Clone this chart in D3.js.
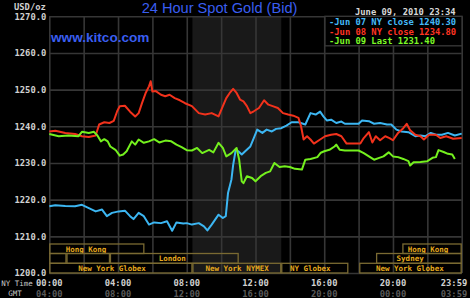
<!DOCTYPE html>
<html><head><meta charset="utf-8">
<script src="https://cdn.jsdelivr.net/npm/d3@7"></script>
<style>html,body{margin:0;padding:0;background:#000;}svg{display:block}</style>
</head><body>
<svg id="c" width="470" height="298"></svg>
<script>
// ---------- data ----------
const yTicks = [1200, 1210, 1220, 1230, 1240, 1250, 1260, 1270];
const gridHours = [0, 2, 4, 6, 8, 10, 12, 14, 16, 18, 20, 22, 24];
const timeHours = [0, 4, 8, 12, 16, 20, 24];
const nyTimeLabels = ["00:00", "04:00", "08:00", "12:00", "16:00", "20:00", "23:59"];
const gmtLabels = ["04:00", "08:00", "12:00", "16:00", "20:00", "00:00", "03:59"];
const legendLabels = ["-Jun 07 NY close 1240.30", "-Jun 08 NY close 1234.80", "-Jun 09 Last 1231.40"];
const nymexShade = [8.33, 13.5];

const jun07 = [[0,1218.2],[0.35,1218.5],[0.93,1218.3],[1.5,1218.2],[1.9,1218.6],[2.3,1217.7],[2.7,1216.8],[3.07,1217.3],[3.35,1215.5],[3.65,1216.4],[4.04,1216.8],[4.4,1217.0],[4.7,1215.5],[4.9,1214.7],[5.2,1216.4],[5.5,1215.5],[5.8,1213.2],[6.1,1213.8],[6.5,1213.6],[6.85,1214.1],[7.15,1211.5],[7.4,1213.8],[7.8,1213.5],[8.0,1213.6],[8.3,1213.2],[8.7,1213.6],[9.0,1212.7],[9.2,1211.6],[9.45,1213.2],[9.85,1215.9],[10.1,1215.0],[10.27,1215.5],[10.4,1221.8],[10.6,1225.5],[10.7,1229.5],[10.85,1233.6],[11.0,1233.2],[11.2,1232.3],[11.4,1233.2],[11.7,1234.5],[11.9,1236.8],[12.1,1239.1],[12.4,1238.2],[12.65,1239.1],[12.95,1238.6],[13.2,1239.3],[13.5,1239.5],[13.8,1240.2],[14.1,1241.1],[14.5,1241.1],[14.9,1240.5],[15.2,1243.6],[15.5,1243.2],[15.76,1244.0],[15.95,1242.7],[16.15,1241.6],[16.4,1241.8],[16.7,1240.9],[17.0,1241.3],[17.2,1240.7],[17.6,1240.7],[18.0,1240.7],[18.2,1241.6],[18.6,1241.4],[18.9,1240.7],[19.25,1240.9],[19.65,1240.5],[19.9,1240.5],[20.2,1239.1],[20.5,1238.6],[20.9,1238.4],[21.3,1237.3],[21.6,1237.5],[21.9,1237.3],[22.2,1238.2],[22.5,1237.7],[22.85,1237.7],[23.2,1238.2],[23.6,1237.5],[24,1238.0]];

const jun08 = [[0,1238.6],[0.35,1238.8],[0.93,1238.2],[1.5,1237.9],[1.9,1237.3],[2.3,1237.1],[2.7,1237.5],[2.9,1240.5],[3.2,1241.1],[3.5,1240.9],[3.75,1241.5],[3.95,1244.1],[4.1,1245.5],[4.4,1245.6],[4.7,1244.0],[5.0,1242.7],[5.2,1243.6],[5.4,1246.4],[5.6,1249.0],[5.8,1250.9],[5.9,1252.3],[6.0,1249.5],[6.2,1249.6],[6.5,1248.6],[6.75,1248.2],[7.0,1248.6],[7.3,1247.7],[7.6,1247.1],[7.9,1246.3],[8.3,1245.5],[8.7,1243.6],[9.07,1243.2],[9.45,1243.6],[9.85,1242.7],[10.1,1245.5],[10.3,1247.7],[10.5,1249.1],[10.7,1250.2],[10.9,1249.1],[11.1,1247.3],[11.3,1246.8],[11.5,1245.5],[11.7,1243.6],[11.9,1244.1],[12.2,1245.0],[12.5,1247.1],[12.75,1245.9],[13.0,1245.5],[13.3,1245.0],[13.6,1243.6],[13.9,1243.2],[14.2,1242.9],[14.5,1242.3],[14.65,1240.0],[14.8,1236.4],[15.0,1237.3],[15.2,1236.4],[15.4,1235.3],[15.76,1236.4],[16.05,1237.3],[16.4,1237.7],[16.7,1237.9],[17.0,1237.3],[17.3,1235.3],[17.7,1235.3],[18.1,1235.3],[18.3,1236.8],[18.6,1238.4],[18.8,1235.6],[19.0,1237.3],[19.25,1236.2],[19.55,1237.3],[19.8,1236.8],[20.0,1236.2],[20.3,1238.2],[20.6,1239.5],[20.8,1240.7],[21.0,1238.9],[21.3,1237.7],[21.6,1237.3],[21.8,1236.4],[22.1,1237.7],[22.5,1237.7],[22.75,1236.8],[23.1,1237.3],[23.5,1236.6],[24,1236.8]];

const jun09 = [[0,1237.9],[0.55,1237.3],[1.1,1237.5],[1.7,1237.3],[1.9,1238.5],[2.3,1238.2],[2.6,1238.5],[2.8,1237.5],[3.0,1235.9],[3.2,1236.5],[3.4,1235.9],[3.55,1234.5],[3.85,1233.6],[4.1,1232.0],[4.3,1232.3],[4.5,1233.2],[4.8,1235.9],[5.0,1235.0],[5.2,1236.4],[5.5,1235.5],[5.8,1235.9],[6.1,1236.5],[6.4,1235.6],[6.75,1236.1],[7.1,1235.9],[7.4,1235.0],[7.7,1234.3],[8.0,1233.5],[8.3,1233.4],[8.6,1234.1],[8.9,1232.7],[9.3,1233.6],[9.55,1232.9],[9.85,1235.5],[10.1,1234.1],[10.3,1231.8],[10.6,1232.7],[10.9,1234.1],[11.05,1230.9],[11.2,1225.0],[11.3,1224.5],[11.5,1226.4],[11.8,1225.9],[12.0,1225.0],[12.3,1226.4],[12.6,1227.3],[12.85,1227.7],[13.1,1230.0],[13.4,1228.9],[13.7,1229.1],[14.0,1228.9],[14.3,1228.4],[14.7,1228.2],[14.9,1230.9],[15.2,1231.1],[15.6,1231.6],[15.8,1232.8],[16.0,1233.2],[16.3,1233.6],[16.6,1234.5],[16.7,1235.0],[16.9,1233.6],[17.2,1233.4],[17.6,1233.4],[18.0,1233.4],[18.3,1232.7],[18.6,1231.8],[18.9,1230.9],[19.2,1231.4],[19.45,1231.8],[19.75,1232.9],[20.0,1231.8],[20.3,1231.6],[20.6,1231.1],[20.9,1230.5],[21.0,1229.3],[21.2,1230.2],[21.6,1230.3],[22.0,1230.5],[22.3,1231.4],[22.5,1231.6],[22.65,1233.5],[22.95,1233.0],[23.2,1232.5],[23.45,1232.3],[23.6,1231.1]];

// sessions: [row, startHour, endHour, label, labelHour]
const sessions = [
  [0, 0, 5.53, "Hong Kong", 2.14],
  [0, 20.55, 24, "Hong Kong", 22.04],
  [1, 0, 1.0, "", 0],
  [1, 1.0, 3.53, "", 0],
  [1, 3.53, 11.02, "London", 7.16],
  [1, 19.02, 24, "Sydney", 21.0],
  [2, 0, 8.33, "New York Globex", 3.65],
  [2, 8.33, 13.5, "New York NYMEX", 10.93],
  [2, 13.5, 17.4, "NY Globex", 15.19],
  [2, 18.04, 24, "New York Globex", 20.98]
];

// ---------- drawing ----------
const svg = d3.select("#c");
const W = 470, H = 298;
const L = 49.3, R = 461.7, T = 16.3, B = 273;
const x = d3.scaleLinear().domain([0, 24]).range([L, R]);
const y = d3.scaleLinear().domain([1200, 1270]).range([B, T]);
const mono = "'DejaVu Sans Mono', monospace";
const seriesColors = ["#3cb6f2", "#f2321c", "#74f01e"];
const legendColors = ["#44baf8", "#ff3422", "#7cf826"];

svg.append("rect").attr("width", W).attr("height", H).attr("fill", "#000");

// NYMEX shaded period
svg.append("rect")
  .attr("x", x(nymexShade[0])).attr("y", T)
  .attr("width", x(nymexShade[1]) - x(nymexShade[0])).attr("height", B - T)
  .attr("fill", "#191919");

// grid via axes
const gx = svg.append("g").attr("transform", `translate(0,${B})`)
  .call(d3.axisBottom(x).tickValues(gridHours).tickSize(-(B - T)).tickFormat(""));
gx.select(".domain").remove();
gx.selectAll("line").attr("stroke", "#363636").attr("stroke-width", 1.6);

const gy = svg.append("g").attr("transform", `translate(${L},0)`)
  .call(d3.axisLeft(y).tickValues(yTicks).tickSize(-(R - L)).tickPadding(3).tickFormat(d3.format(".1f")));
gy.select(".domain").remove();
gy.selectAll("line").attr("stroke", "#363636").attr("stroke-width", 1.6);
gy.selectAll("text").attr("fill", "#d0d0d0").attr("font-family", mono)
  .attr("font-size", 8.8).attr("font-weight", "bold");

// session bands
const rowTop = [244, 253.5, 263.3], rowH = [9.5, 9.8, 9.7];
const sg = svg.append("g");
sessions.forEach(s => {
  const [row, a, b, lab, at] = s;
  sg.append("rect").attr("x", x(a) + 0.5).attr("y", rowTop[row])
    .attr("width", x(b) - x(a) - 1).attr("height", rowH[row])
    .attr("fill", "none").attr("stroke", "#7a6a32").attr("stroke-width", 1.3);
  if (lab) {
    sg.append("text").attr("x", x(at)).attr("y", rowTop[row] + rowH[row] / 2 + 2.8)
      .attr("text-anchor", "middle").attr("fill", "#e6aa1e")
      .attr("font-family", mono).attr("font-size", 7.5).attr("font-weight", "bold")
      .text(lab);
  }
});

// series lines
const line = d3.line().x(d => x(d[0])).y(d => y(d[1]));
[jun07, jun08, jun09].forEach((s, i) => {
  svg.append("path").datum(s).attr("d", line)
    .attr("fill", "none").attr("stroke", seriesColors[i])
    .attr("stroke-width", 2).attr("stroke-linejoin", "round");
});

// legend
svg.append("rect").attr("x", 325).attr("y", T).attr("width", 137).attr("height", 29.5)
  .attr("fill", "#000").attr("stroke", "#363636").attr("stroke-width", 1.4);
legendLabels.forEach((t, i) => {
  svg.append("text").attr("x", 329).attr("y", 25 + i * 9.5)
    .attr("fill", legendColors[i]).attr("font-family", mono)
    .attr("font-size", 8.8).attr("font-weight", "bold").text(t);
});

// time labels
timeHours.forEach((h, i) => {
  const px = Math.min(x(h), 454);
  svg.append("text").attr("x", px).attr("y", 285.5).attr("text-anchor", "middle")
    .attr("fill", "#d0d0d0").attr("font-family", mono).attr("font-size", 8.8)
    .attr("font-weight", "bold").text(nyTimeLabels[i]);
  svg.append("text").attr("x", px).attr("y", 296.5).attr("text-anchor", "middle")
    .attr("fill", "#5a5a5a").attr("font-family", mono).attr("font-size", 8.8)
    .attr("font-weight", "bold").text(gmtLabels[i]);
});
svg.append("text").attr("x", 17).attr("y", 285.5).attr("text-anchor", "middle")
  .attr("fill", "#c8c8c8").attr("font-family", mono).attr("font-size", 7.5).text("NY Time");
svg.append("text").attr("x", 15).attr("y", 295.5).attr("text-anchor", "middle")
  .attr("fill", "#c8c8c8").attr("font-family", mono).attr("font-size", 7.5).text("GMT");

// header texts
svg.append("text").attr("x", 14).attr("y", 9.5).attr("fill", "#d0d0d0")
  .attr("font-family", mono).attr("font-size", 8.8).attr("font-weight", "bold").text("USD/oz");
svg.append("text").attr("x", 219.5).attr("y", 13.3).attr("text-anchor", "middle")
  .attr("fill", "#3a5ef0").attr("font-family", "'Liberation Sans', Arial, sans-serif")
  .attr("font-size", 14.6).text("24 Hour Spot Gold (Bid)");
svg.append("text").attr("x", 51).attr("y", 41.5).attr("fill", "#3a5ef0")
  .attr("font-family", "'Liberation Sans', Arial, sans-serif").attr("font-weight", "bold")
  .attr("font-size", 13.6).text("www.kitco.com");
svg.append("text").attr("x", 355).attr("y", 14.7).attr("fill", "#d8d8d8")
  .attr("font-family", mono).attr("font-size", 8.8).attr("font-weight", "bold")
  .text("June 09, 2010 23:34");
</script>
</body></html>
